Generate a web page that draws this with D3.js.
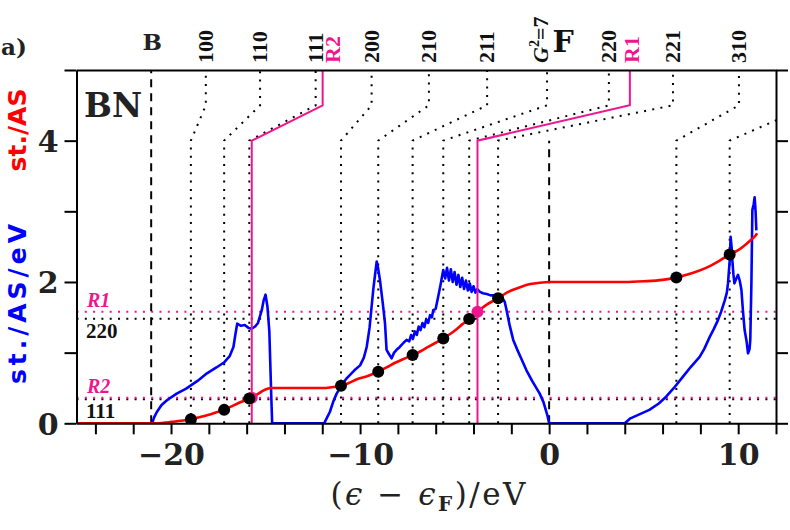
<!DOCTYPE html>
<html>
<head>
<meta charset="utf-8">
<script src="https://cdn.jsdelivr.net/npm/d3@7"></script>
<style>
  html, body { margin: 0; padding: 0; background: #fff; }
  svg { display: block; }
</style>
</head>
<body>
<div id="chart"></div>
<script>
// reflections: label, energy where the dotted line meets the curve, energy of the label at the top
const reflLabels = ["100", "110", "111", "200", "210", "211", "G2=7", "220", "221", "310", "311"];
const reflBottom = [-18.95, -17.19, -15.86, -11.01, -9.04, -7.22, -5.60, -4.23, -2.70, 6.73, 9.55];
const reflTop = [-18.16, -15.29, -12.35, -9.39, -6.36, -3.28, -0.11, 3.16, 6.55, 10.04, 13.8];
const reflCount = [0.057, 0.19, 0.35, 0.53, 0.73, 0.966, 1.20, 1.475, 1.77, 2.065, 2.39];

// resonances
const resLabels = ["R1", "R2"];
const resBottom = [-3.79, -15.73];
const resTop = [4.27, -11.98];
const resCount = [1.58, 0.362];

// horizontal reference levels on the left
const refLevels = [1.48, 0.34];
const refLevelLabels = ["220", "111"];

const eB = -21.05, eF = 0;

// density of states (st./AS/eV)
const dosE = [-25, -21.0, -20.9, -20.75, -20.5, -20.2, -19.7, -19.2, -18.6, -18.1, -17.6, -17.2, -16.9, -16.7, -16.6, -16.5,
  -16.3, -16.1, -15.9, -15.73, -15.55, -15.4, -15.2, -15.1, -15.0, -14.9, -14.8, -14.7, -14.65,
  -11.9, -11.75, -11.6, -11.4, -11.24, -11.0, -10.7, -10.3, -10.0, -9.8, -9.65, -9.5, -9.39, -9.3, -9.2, -9.12,
  -9.05, -8.95, -8.8, -8.68, -8.6, -8.45, -8.33, -8.2, -8.07, -7.9, -7.7, -7.54,
  -7.4, -7.3, -7.2, -7.1, -7.0, -6.9, -6.8, -6.7, -6.6, -6.5, -6.4, -6.3, -6.2, -6.13, -6.0, -5.87, -5.75, -5.65, -5.6,
  -5.5, -5.4, -5.3, -5.2, -5.1, -5.0, -4.9, -4.8, -4.7, -4.6, -4.5, -4.4, -4.3, -4.2, -4.1, -4.0, -3.9, -3.8, -3.66,
  -3.5, -3.3, -3.1, -2.96, -2.7, -2.5, -2.35, -2.25, -2.1, -1.9, -1.7, -1.5, -1.2, -0.9, -0.5, -0.3, -0.1, 0,
  4.0, 4.3, 4.8, 5.3, 5.8, 6.2, 6.6, 7.08, 7.5, 7.96, 8.2, 8.49, 8.7, 8.93, 9.1, 9.29, 9.4, 9.46, 9.55, 9.6, 9.65,
  9.69, 9.75, 9.8, 9.9, 9.99, 10.08, 10.17, 10.25, 10.34, 10.45, 10.52, 10.6, 10.64, 10.7, 10.75, 10.82, 10.87, 10.92, 10.96];
const dosV = [0, 0, 0.08, 0.16, 0.26, 0.33, 0.42, 0.49, 0.6, 0.707, 0.79, 0.86, 0.95, 1.08, 1.25, 1.41,
  1.38, 1.39, 1.35, 1.34, 1.37, 1.42, 1.6, 1.74, 1.82, 1.65, 1.3, 0.4, 0,
  0, 0.08, 0.16, 0.32, 0.42, 0.53, 0.64, 0.75, 0.82, 0.93, 1.08, 1.35, 1.65, 1.9, 2.12, 2.29,
  2.2, 2.03, 1.7, 1.41, 1.04, 0.97, 0.92, 1.0, 1.04, 1.08, 1.14, 1.18,
  1.16, 1.25, 1.2, 1.3, 1.25, 1.37, 1.32, 1.42, 1.36, 1.47, 1.42, 1.53, 1.5, 1.6, 1.62, 1.79, 1.95, 2.1, 2.17,
  2.05, 2.2, 2.02, 2.18, 2.0, 2.14, 1.96, 2.1, 1.93, 2.06, 1.9, 2.02, 1.88, 1.98, 1.86, 1.94, 1.85, 1.9, 1.86,
  1.84, 1.83, 1.81, 1.81, 1.8, 1.78, 1.72, 1.6, 1.4, 1.18, 1.05, 0.93, 0.75, 0.6, 0.42, 0.3, 0.12, 0,
  0, 0.07, 0.13, 0.19, 0.28, 0.38, 0.5, 0.66, 0.8, 0.94, 1.05, 1.22, 1.33, 1.46, 1.58, 1.74, 1.85, 1.98, 2.3, 2.64, 2.5,
  2.31, 2.1, 1.98, 2.05, 2.1, 2.02, 1.89, 1.6, 1.32, 1.15, 0.99, 1.05, 1.18, 2.0, 3.02, 3.1, 3.2, 3.0, 2.73];

// integrated number of states (st./AS)
const nosE = [-25, -20.75, -20.3, -20, -19.5, -18.95, -18.5, -18, -17.6, -17.19, -16.8, -16.4, -15.86, -15.5, -15.2, -14.9, -14.7,
  -11.8, -11.5, -11.2, -11.01, -10.6, -10.2, -9.6, -9.04, -8.6, -8.2, -7.7, -7.22, -6.8, -6.4, -6.0, -5.6, -5.2, -4.9,
  -4.6, -4.23, -3.79, -3.3, -2.7, -2.3, -1.9, -1.5, -1.0, -0.5, 0, 4.0, 5.0, 6.0, 6.73, 7.5, 8.3, 9.0, 9.55, 10.0, 10.4, 10.7, 10.9, 11.0];
const nosV = [0, 0, 0.01, 0.02, 0.035, 0.057, 0.085, 0.12, 0.155, 0.19, 0.24, 0.29, 0.35, 0.40, 0.45, 0.49, 0.5,
  0.5, 0.51, 0.52, 0.53, 0.57, 0.62, 0.67, 0.73, 0.79, 0.85, 0.91, 0.966, 1.02, 1.08, 1.14, 1.20, 1.27, 1.33,
  1.40, 1.475, 1.58, 1.68, 1.77, 1.84, 1.89, 1.93, 1.97, 1.99, 2.0, 2.0, 2.01, 2.03, 2.065, 2.12, 2.2, 2.3, 2.39, 2.45, 2.53, 2.6, 2.65, 2.69];

const xTickVals = d3.range(-24, 13, 2);
const xTickLabels = [-20, -10, 0, 10];
const yTickVals = [0, 1, 2, 3, 4, 5];
const yTickLabels = [0, 2, 4];

const W = 790, H = 530;
const pink = "#ee168e";
const boldSerif = "DejaVu Serif, serif";
const x = d3.scaleLinear().domain([-25, 12]).range([76.5, 776]);
const y = d3.scaleLinear().domain([0, 5]).range([423.3, 70]);

const svg = d3.select("#chart").append("svg")
  .attr("width", W).attr("height", H)
  .attr("font-family", "Liberation Serif, DejaVu Serif, serif");

svg.append("defs").append("clipPath").attr("id", "plot")
  .append("rect").attr("x", x(-25)).attr("y", y(5))
  .attr("width", x(12) - x(-25)).attr("height", y(0) - y(5));

const plot = svg.append("g").attr("clip-path", "url(#plot)");
const dots = "2,6.3";

// horizontal levels
refLevels.forEach(v => {
  plot.append("line").attr("x1", x(-25)).attr("x2", x(12))
    .attr("y1", y(v)).attr("y2", y(v))
    .attr("stroke", "#000").attr("stroke-width", 2).attr("stroke-dasharray", dots);
});
resCount.forEach(v => {
  plot.append("line").attr("x1", x(-25)).attr("x2", x(12))
    .attr("y1", y(v)).attr("y2", y(v))
    .attr("stroke", pink).attr("stroke-width", 2).attr("stroke-dasharray", dots);
});

// reflection guide lines
const guide = (eb, et) => d3.line()([[x(eb), y(0)], [x(eb), y(4.0)], [x(et), y(4.5)], [x(et), y(5)]]);
reflBottom.forEach((eb, i) => {
  plot.append("path").attr("d", guide(eb, reflTop[i]))
    .attr("fill", "none").attr("stroke", "#000").attr("stroke-width", 2)
    .attr("stroke-dasharray", dots);
});

// B and F
plot.append("line").attr("x1", x(eB)).attr("x2", x(eB)).attr("y1", y(0)).attr("y2", y(5))
  .attr("stroke", "#000").attr("stroke-width", 2).attr("stroke-dasharray", "8,6");
plot.append("line").attr("x1", x(eF)).attr("x2", x(eF)).attr("y1", y(0)).attr("y2", y(4.0))
  .attr("stroke", "#000").attr("stroke-width", 2).attr("stroke-dasharray", "8,6");

// DOS
const dosLine = d3.line().x(d => x(d[0])).y(d => y(d[1]));
plot.append("path").attr("d", dosLine(d3.zip(dosE, dosV)))
  .attr("fill", "none").attr("stroke", "#0000ff").attr("stroke-width", 2.6)
  .attr("stroke-linejoin", "round");

// integrated
plot.append("path").attr("d", dosLine.curve(d3.curveMonotoneX)(d3.zip(nosE, nosV)))
  .attr("fill", "none").attr("stroke", "#ff0000").attr("stroke-width", 2.6);

// resonance lines
resBottom.forEach((eb, i) => {
  plot.append("path").attr("d", guide(eb, resTop[i]))
    .attr("fill", "none").attr("stroke", pink).attr("stroke-width", 2);
});

// markers
resBottom.forEach((eb, i) => {
  plot.append("circle").attr("cx", x(eb)).attr("cy", y(resCount[i])).attr("r", 6).attr("fill", pink);
});
reflBottom.forEach((eb, i) => {
  plot.append("circle").attr("cx", x(eb)).attr("cy", y(reflCount[i])).attr("r", 6).attr("fill", "#000");
});

// axes
const fixAxis = g => {
  g.select(".domain").attr("stroke-width", 2);
  g.selectAll(".tick line").attr("stroke-width", 2);
  g.selectAll(".tick text").attr("font-family", boldSerif)
    .attr("font-weight", "bold").attr("font-size", 30).attr("fill", "#222");
};
const fmt = d => d < 0 ? "\u2212" + Math.abs(d) : String(d);

svg.append("g").attr("transform", `translate(0,${y(0)})`)
  .call(d3.axisBottom(x).tickValues(xTickVals).tickSize(11).tickSizeOuter(0)
    .tickFormat(d => xTickLabels.includes(d) ? fmt(d) : ""))
  .call(fixAxis)
  .call(g => g.selectAll(".tick text").attr("y", 42).attr("dy", 0));
svg.append("g").attr("transform", `translate(0,${y(5)})`)
  .call(d3.axisTop(x).tickValues([]).tickSizeOuter(0))
  .call(fixAxis);
svg.append("g").attr("transform", `translate(${x(-25)},0)`)
  .call(d3.axisLeft(y).tickValues(yTickVals).tickSize(12).tickSizeOuter(0)
    .tickFormat(d => yTickLabels.includes(d) ? d : ""))
  .call(fixAxis)
  .call(g => g.selectAll(".tick text").attr("x", -18).attr("dy", "0.36em"));
svg.append("g").attr("transform", `translate(${x(12)},0)`)
  .call(d3.axisRight(y).tickValues(yTickVals).tickSize(12).tickSizeOuter(0).tickFormat(""))
  .call(fixAxis);

// top labels
reflLabels.forEach((lab, i) => {
  const xt = x(reflTop[i]);
  if (xt > x(12)) return;
  const t = svg.append("text")
    .attr("transform", `translate(${xt + (lab.startsWith("G") ? 1 : 7)},63) rotate(-90)`)
    .attr("font-size", 22).attr("font-weight", "bold").attr("fill", "#111");
  if (lab.startsWith("G")) {
    t.append("tspan").attr("font-style", "italic").text("G");
    t.append("tspan").attr("font-size", 14).attr("dy", -9).text("2");
    t.append("tspan").attr("dy", 9).text("=7");
  } else {
    t.text(lab);
  }
});
resLabels.forEach((lab, i) => {
  const off = i === 1 ? 17 : 9;
  svg.append("text")
    .attr("transform", `translate(${x(resTop[i]) + off},63) rotate(-90)`)
    .attr("font-size", 22).attr("font-weight", "bold").attr("fill", pink).text(lab);
});
svg.append("text").attr("x", x(eB) + 1).attr("y", 50).attr("text-anchor", "middle")
  .attr("font-family", boldSerif).attr("font-size", 23).attr("font-weight", "bold")
  .attr("fill", "#222").text("B");
svg.append("text").attr("x", x(eF) + 14).attr("y", 52).attr("text-anchor", "middle")
  .attr("font-family", boldSerif).attr("font-size", 30).attr("font-weight", "bold")
  .attr("fill", "#111").text("F");

// level labels
resLabels.forEach((lab, i) => {
  svg.append("text").attr("x", 87).attr("y", y(resCount[i]) - 5)
    .attr("font-size", 20).attr("font-weight", "bold").attr("font-style", "italic")
    .attr("fill", pink).text(lab);
});
refLevelLabels.forEach((lab, i) => {
  svg.append("text").attr("x", 86).attr("y", y(refLevels[i]) + 19)
    .attr("font-size", 21).attr("font-weight", "bold").attr("fill", "#111").text(lab);
});

// misc labels
svg.append("text").attr("x", 1).attr("y", 55)
  .attr("font-family", boldSerif).attr("font-size", 23).attr("font-weight", "bold")
  .attr("fill", "#222").text("a)");
svg.append("text").attr("x", 84).attr("y", 117)
  .attr("font-family", boldSerif).attr("font-size", 33).attr("font-weight", "bold")
  .attr("fill", "#222").text("BN");

// axis titles
svg.append("text").attr("transform", "translate(26,130) rotate(-90)")
  .attr("text-anchor", "middle").attr("font-family", "DejaVu Sans, sans-serif")
  .attr("font-size", 25).attr("font-weight", "bold").attr("fill", "#ff0000")
  .text("st./AS");
svg.append("text").attr("transform", "translate(26,304) rotate(-90)")
  .attr("text-anchor", "middle").attr("font-family", "DejaVu Sans, sans-serif")
  .attr("font-size", 25).attr("font-weight", "bold").attr("fill", "#0000ff")
  .attr("textLength", 160).attr("lengthAdjust", "spacing").text("st./AS/eV");

const xt = svg.append("text").attr("x", 428).attr("y", 505).attr("text-anchor", "middle")
  .attr("font-family", "DejaVu Serif, serif").attr("font-size", 31).attr("fill", "#222")
  .attr("textLength", 195).attr("lengthAdjust", "spacing");
xt.append("tspan").text("(");
xt.append("tspan").attr("font-style", "italic").text("\u03f5");
xt.append("tspan").text(" \u2212 ");
xt.append("tspan").attr("font-style", "italic").text("\u03f5");
xt.append("tspan").attr("font-size", 20).attr("font-weight", "bold").attr("dy", 6).text("F");
xt.append("tspan").attr("dy", -6).text(")/eV");
</script>
</body>
</html>
